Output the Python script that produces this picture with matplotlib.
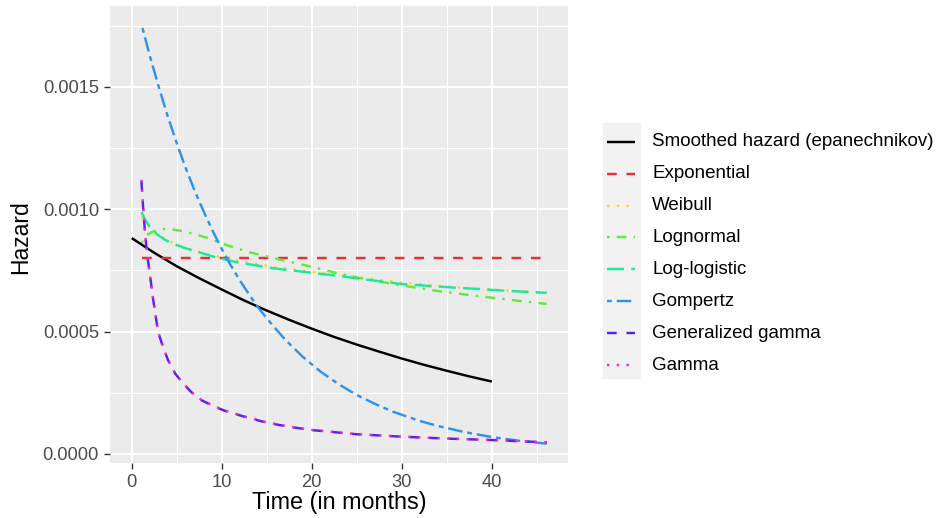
import matplotlib
matplotlib.use("Agg")
import matplotlib.pyplot as plt
from matplotlib.lines import Line2D
from matplotlib.patches import Rectangle
from matplotlib.ticker import FormatStrFormatter

plt.rcParams['font.family'] = ['Liberation Sans', 'DejaVu Sans']

W, H, DPI = 938, 518, 100

# ---- hazard curves (time in months) ----
smooth_t = [0, 2.5, 5, 7.5, 10, 12.5, 15, 17.5, 20, 22.5, 25, 27.5, 30, 32.5, 35, 37.5, 40]
smooth_h = [0.000882, 0.000822, 0.000767, 0.000718, 0.000672, 0.000627, 0.000586, 0.000548,
            0.000512, 0.000478, 0.000447, 0.000418, 0.000390, 0.000364, 0.000340, 0.000317, 0.000296]

expo_t = [1.1, 46.1]
expo_h = [0.00080, 0.00080]

weib_t = [1.1, 1.5, 2, 3, 4, 5.5, 7, 8.5, 10, 12.5, 15, 17.5, 20, 25, 30, 35, 40, 46.1]
weib_h = [0.000970, 0.000950, 0.000928, 0.000896, 0.000872, 0.000848, 0.000829, 0.000815, 0.000803,
          0.000785, 0.000769, 0.000756, 0.000745, 0.000723, 0.000700, 0.000684, 0.000671, 0.000659]

lnorm_t = [1.1, 1.6, 2.2, 3.1, 4, 5.3, 6.8, 8.3, 10.5, 13.1, 16.1, 19.4, 23, 26.4, 29.8, 33.5, 38, 42, 46.1]
lnorm_h = [0.000862, 0.000892, 0.000906, 0.000917, 0.000920, 0.000913, 0.000900, 0.000884, 0.000854,
           0.000824, 0.000797, 0.000770, 0.000737, 0.000711, 0.000690, 0.000668, 0.000647, 0.000630, 0.000613]

llog_t = [1.1, 1.45, 2, 2.75, 3.6, 4.6, 6, 7.5, 9, 10.5, 12, 13.9, 16, 19.4, 23, 26, 29.8, 34, 38, 42, 46.1]
llog_h = [0.000988, 0.000960, 0.000928, 0.000899, 0.000877, 0.000859, 0.000840, 0.000824, 0.000807,
          0.000793, 0.000781, 0.000770, 0.000757, 0.000743, 0.000727, 0.000713, 0.000695, 0.000684,
          0.000675, 0.000666, 0.000658]

gomp_t = [1.2, 2, 3, 4, 5, 6, 7, 8, 9, 10, 11, 12, 13, 14, 15, 17, 19, 21, 23, 25, 27, 29, 32, 34,
          37, 40, 43, 46.1]
gomp_h = [0.001740, 0.001628, 0.001500, 0.001380, 0.001270, 0.001168, 0.001075, 0.000990, 0.000911,
          0.000838, 0.000771, 0.000710, 0.000654, 0.000601, 0.000554, 0.000469, 0.000397, 0.000336,
          0.000285, 0.000241, 0.000205, 0.000173, 0.000135, 0.0001145, 0.0000892, 0.0000695,
          0.0000541, 0.0000423]

ggam_t = [1.08, 1.3, 1.52, 1.75, 2.0, 2.37, 2.93, 3.5, 4.04, 4.8, 5.7, 6.7, 7.74, 9, 10.3, 12.56,
          15, 17.5, 20, 25, 30, 35, 40, 46.1]
ggam_h = [0.001114, 0.000990, 0.000885, 0.000807, 0.000739, 0.000635, 0.000499, 0.000435, 0.000383,
          0.000330, 0.000288, 0.000250, 0.000220, 0.000197, 0.000177, 0.000152, 0.000128, 0.000111,
          0.0000978, 0.0000807, 0.0000706, 0.0000630, 0.0000570, 0.0000475]

gam_t = [1.08, 1.3, 1.52, 1.75, 2.0, 2.37, 2.93, 3.5, 4.04, 4.8, 5.7, 6.7, 7.74, 9, 10.3, 12.56,
         15, 17.5, 20, 25, 30, 35, 40, 46.1]
gam_h = [0.001120, 0.000995, 0.000888, 0.000809, 0.000740, 0.000636, 0.000500, 0.000436, 0.000384,
         0.000331, 0.000289, 0.000251, 0.000221, 0.000198, 0.000178, 0.000153, 0.000129, 0.000112,
         0.0000985, 0.0000812, 0.0000710, 0.0000634, 0.0000573, 0.0000478]

labels = ["Smoothed hazard (epanechnikov)", "Exponential", "Weibull", "Lognormal",
          "Log-logistic", "Gompertz", "Generalized gamma", "Gamma"]
colors = ["#000000", "#EE2E36", "#F4D62A", "#5DEB3C", "#1FE996", "#2D93EC", "#5324EA", "#EC2CD2"]
# R-style line types, in units of line width
dashes = [None, (4, 4), (1, 3), (1, 3, 4, 3), (7, 3), (2, 2, 6, 2), (4, 4), (1, 3)]
curves = [(smooth_t, smooth_h), (expo_t, expo_h), (weib_t, weib_h), (lnorm_t, lnorm_h),
          (llog_t, llog_h), (gomp_t, gomp_h), (ggam_t, ggam_h), (gam_t, gam_h)]

LW = 1.75

fig = plt.figure(figsize=(W / DPI, H / DPI), dpi=DPI)
px_l, px_r, px_t, px_b = 110, 568.3, 6, 463.3
ax = fig.add_axes([px_l / W, 1 - px_b / H, (px_r - px_l) / W, (px_b - px_t) / H])
ax.set_facecolor("#EBEBEB")
for s in ax.spines.values():
    s.set_visible(False)

ax.set_xlim(-2.41, 48.5)
ax.set_ylim(-0.000038, 0.00183)
ax.set_xticks([0, 10, 20, 30, 40])
ax.set_xticks([5, 15, 25, 35, 45], minor=True)
ax.set_yticks([0.0, 0.0005, 0.0010, 0.0015])
ax.set_yticks([0.00025, 0.00075, 0.00125, 0.00175], minor=True)
ax.yaxis.set_major_formatter(FormatStrFormatter("%.4f"))
ax.set_axisbelow(True)
ax.grid(which="major", color="white", lw=1.5)
ax.grid(which="minor", color="white", lw=0.75)
ax.tick_params(which="major", length=4.2, width=1.0, color="#333333",
               labelsize=13.2, labelcolor="#4D4D4D", pad=3.8)
ax.tick_params(which="minor", length=0)

for (t, h), c, d in zip(curves, colors, dashes):
    line, = ax.plot(t, h, color=c, lw=LW, solid_capstyle="butt", dash_capstyle="butt")
    if d is not None:
        line.set_dashes(d)

fig.text(339.2 / W, 1 - 503 / H, "Time (in months)", fontsize=16.8, ha="center", va="center")
fig.text(20.7 / W, 1 - 237 / H, "Hazard", fontsize=16.5, ha="center", va="center", rotation=90)

# legend
fig.patches.append(Rectangle((603.3 / W, 1 - 378.3 / H), 36.7 / W, 255.6 / H,
                             transform=fig.transFigure, color="#F2F2F2", zorder=0))
for i, (lab, c, d) in enumerate(zip(labels, colors, dashes)):
    yc = 1 - (141.7 + 31.93 * i) / H
    key = Line2D([607 / W, 635 / W], [yc, yc], transform=fig.transFigure, color=c, lw=LW,
                 solid_capstyle="butt", dash_capstyle="butt")
    if d is not None:
        key.set_dashes(d)
    fig.add_artist(key)
    fig.text(652 / W, yc, lab, fontsize=13.5, ha="left", va="center")

fig.savefig("out.png", dpi=DPI, facecolor="white")
